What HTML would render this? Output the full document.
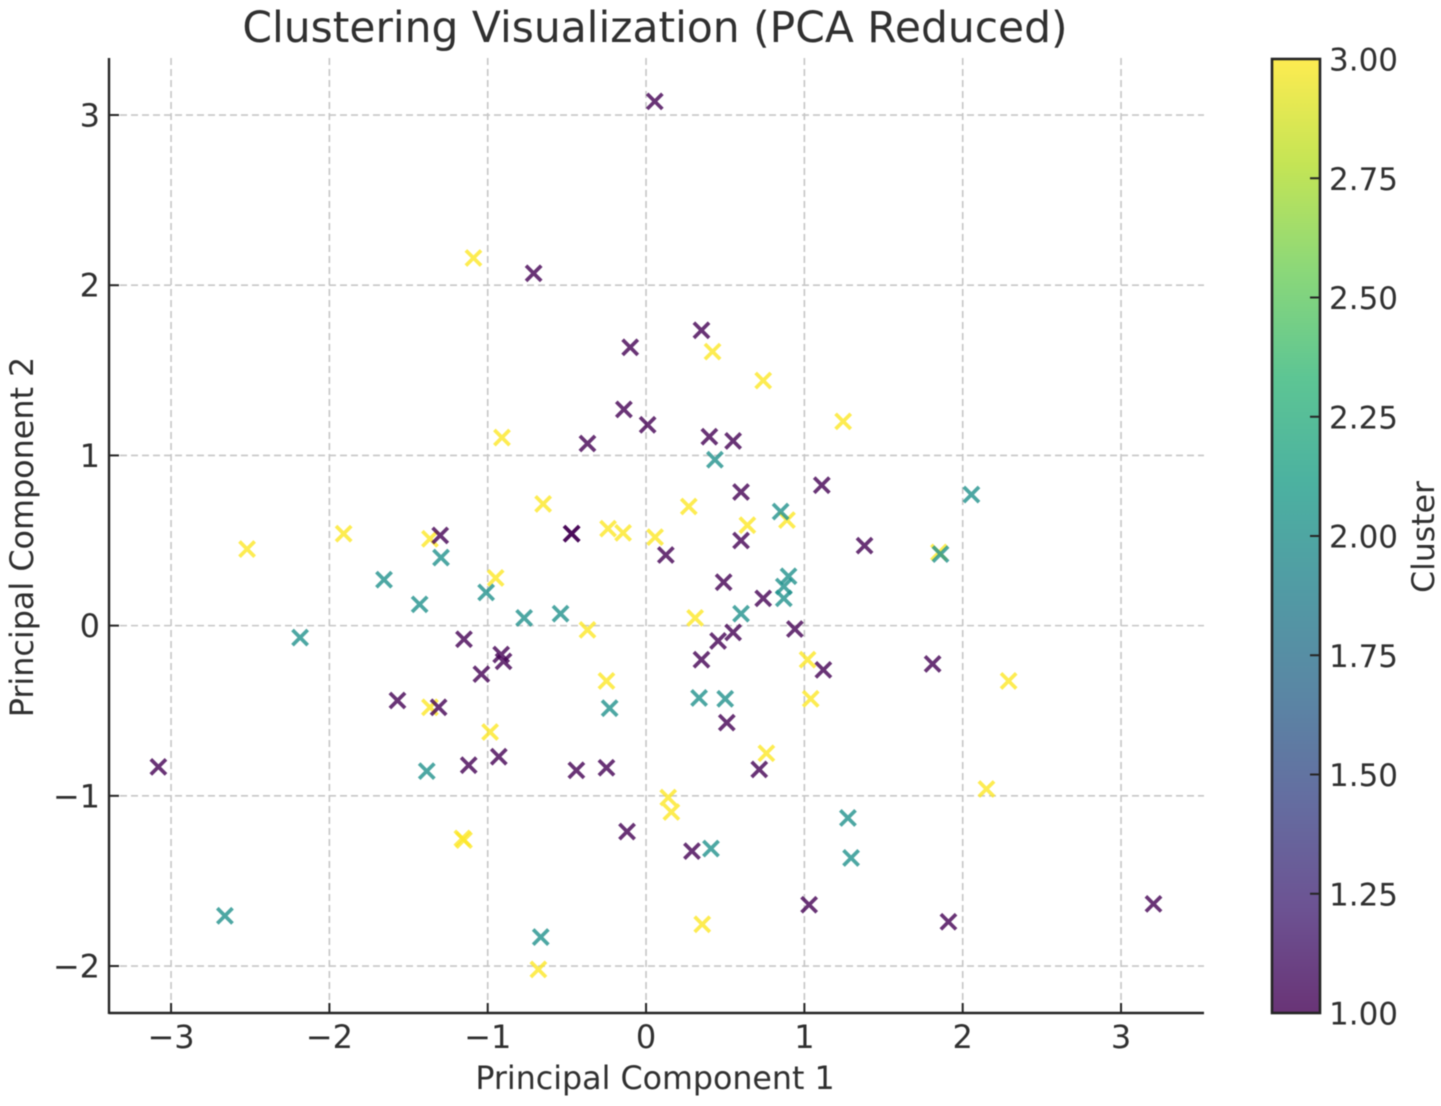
<!DOCTYPE html>
<html lang="en">
<head>
<meta charset="utf-8">
<title>Clustering Visualization (PCA Reduced)</title>
<style>
html,body{margin:0;padding:0;background:#fff;}
body{width:1441px;height:1106px;overflow:hidden;}
svg{display:block;filter:blur(0.5px);}
text{font-family:"DejaVu Sans","Liberation Sans",sans-serif;fill:#303030;}
</style>
</head>
<body>
<svg id="chart" xmlns="http://www.w3.org/2000/svg" width="1441" height="1106" viewBox="0 0 1441 1106">
<defs>
<linearGradient id="viridis" x1="0" y1="1" x2="0" y2="0"></linearGradient>
</defs>
<rect width="1441" height="1106" fill="#fff"></rect>
<text x="655" y="42" font-size="42.4" text-anchor="middle">Clustering Visualization (PCA Reduced)</text>
<g id="grid"></g>
<g id="points"></g>
<g id="axes"></g>
<text x="655" y="1089" font-size="31.7" text-anchor="middle">Principal Component 1</text>
<text transform="translate(33,537) rotate(-90)" font-size="31.8" text-anchor="middle">Principal Component 2</text>
<g id="colorbar"></g>
<text transform="translate(1434,537) rotate(-90)" font-size="31.5" text-anchor="middle">Cluster</text>
</svg>
<script>
const xTicks = [-3, -2, -1, 0, 1, 2, 3];
const yTicks = [-2, -1, 0, 1, 2, 3];
const cbTicks = [1, 1.25, 1.5, 1.75, 2, 2.25, 2.5, 2.75, 3];

const cluster3X = [-1.09,0.42,0.74,1.245,-0.91,-0.65,0.27,0.64,0.89,-2.52,-1.91,-1.365,-0.24,-0.145,0.057,1.85,-0.95,-0.37,0.31,1.02,-0.25,1.04,2.29,-1.365,-0.985,0.76,0.14,0.16,2.15,-1.16,-1.15,0.355,-0.68];
const cluster3Y = [2.16,1.61,1.44,1.2,1.105,0.715,0.7,0.59,0.62,0.45,0.54,0.51,0.57,0.545,0.52,0.43,0.28,-0.025,0.045,-0.2,-0.325,-0.43,-0.325,-0.48,-0.625,-0.75,-1.01,-1.095,-0.96,-1.25,-1.26,-1.755,-2.02];

const cluster2X = [0.435,0.85,2.055,1.86,0.9,0.87,0.87,0.6,-1.295,-1.655,-1.43,-1.01,-0.77,-0.54,-2.185,0.335,0.5,-0.23,-1.385,1.275,1.295,0.41,-2.66,-0.665];
const cluster2Y = [0.975,0.67,0.77,0.42,0.29,0.23,0.16,0.07,0.4,0.27,0.125,0.195,0.045,0.07,-0.07,-0.425,-0.43,-0.485,-0.855,-1.13,-1.365,-1.31,-1.705,-1.83];

const cluster1X = [0.055,-0.71,0.35,-0.1,-0.14,0.01,-0.37,0.4,0.55,0.6,1.11,1.38,-1.3,-0.47,-0.47,0.125,0.6,0.49,0.74,0.94,0.55,0.455,0.35,1.12,1.81,-1.15,-0.915,-0.9,-1.04,-1.57,-1.31,0.51,-3.08,-1.12,-0.93,-0.44,-0.25,0.715,-0.12,0.29,1.03,1.91,3.205];
const cluster1Y = [3.08,2.07,1.735,1.635,1.27,1.18,1.07,1.11,1.085,0.785,0.825,0.47,0.53,0.54,0.54,0.415,0.5,0.255,0.16,-0.02,-0.04,-0.09,-0.2,-0.26,-0.225,-0.08,-0.17,-0.21,-0.285,-0.44,-0.48,-0.57,-0.83,-0.82,-0.77,-0.85,-0.835,-0.845,-1.21,-1.325,-1.64,-1.74,-1.635];

const NS = 'http://www.w3.org/2000/svg';
const plot = { left: 109, right: 1204, top: 58, bottom: 1013 };
const xDomain = [-3.392, 3.524];
const yDomain = [-2.276, 3.335];
const cbBox = { left: 1272, right: 1320, top: 59, bottom: 1013 };
const cbDomain = [1, 3];
const inkColor = '#252525';

function xScale(v) {
  return plot.left + (v - xDomain[0]) / (xDomain[1] - xDomain[0]) * (plot.right - plot.left);
}
function yScale(v) {
  return plot.bottom - (v - yDomain[0]) / (yDomain[1] - yDomain[0]) * (plot.bottom - plot.top);
}
function cbScale(v) {
  return cbBox.bottom - (v - cbDomain[0]) / (cbDomain[1] - cbDomain[0]) * (cbBox.bottom - cbBox.top);
}
function make(tag, attrs, parent) {
  const el = document.createElementNS(NS, tag);
  for (const k in attrs) el.setAttribute(k, attrs[k]);
  parent.appendChild(el);
  return el;
}
function minusLabel(v) {
  return (v < 0 ? '\u2212' : '') + String(Math.abs(v));
}

const gridG = document.getElementById('grid');
const axesG = document.getElementById('axes');
const pointsG = document.getElementById('points');
const cbG = document.getElementById('colorbar');

xTicks.forEach(function (t) {
  const px = xScale(t);
  const gl = make('line', { x1: px, x2: px, y1: plot.top, y2: plot.bottom, stroke: '#c6c6c6', 'stroke-width': 1.6, 'stroke-dasharray': '7 4' }, gridG);
  
  
  const tk = make('line', { x1: px, x2: px, y1: plot.bottom, y2: plot.bottom - 10, stroke: inkColor, 'stroke-width': 2 }, axesG);
  
  
  const lb = make('text', { x: px, y: 1048, 'font-size': 32, 'text-anchor': 'middle' }, axesG);
  
  
  lb.textContent = minusLabel(t);
});

yTicks.forEach(function (t) {
  const py = yScale(t);
  const gl = make('line', { x1: plot.left, x2: plot.right, y1: py, y2: py, stroke: '#c6c6c6', 'stroke-width': 1.6, 'stroke-dasharray': '7 4' }, gridG);
  
  
  const tk = make('line', { x1: plot.left, x2: plot.left + 10, y1: py, y2: py, stroke: inkColor, 'stroke-width': 2 }, axesG);
  
  
  const lb = make('text', { x: 100, y: py + 11.5, 'font-size': 32, 'text-anchor': 'end' }, axesG);
  
  
  lb.textContent = minusLabel(t);
});

const leftSpine = make('line', { x1: plot.left, x2: plot.left, y1: plot.top, y2: plot.bottom + 1, stroke: inkColor, 'stroke-width': 2.4 }, axesG);


const bottomSpine = make('line', { x1: plot.left, x2: plot.right, y1: plot.bottom, y2: plot.bottom, stroke: inkColor, 'stroke-width': 2.4 }, axesG);



function drawSeries(xs, ys, color, name) {
  xs.forEach(function (xv, i) {
    const cx = xScale(xv);
    const cy = yScale(ys[i]);
    const r = 7.6;
    const p = make('path', {
      d: 'M' + (cx - r) + ' ' + (cy - r) + 'L' + (cx + r) + ' ' + (cy + r) + 'M' + (cx - r) + ' ' + (cy + r) + 'L' + (cx + r) + ' ' + (cy - r),
      stroke: color, 'stroke-width': 3.7, 'stroke-opacity': 0.8, fill: 'none'
    }, pointsG);
    
    
  });
}
drawSeries(cluster3X, cluster3Y, '#fde725', 'point-cluster-3');
drawSeries(cluster2X, cluster2Y, '#21918c', 'point-cluster-2');
drawSeries(cluster1X, cluster1Y, '#440154', 'point-cluster-1');

const viridisStops = ['#440154','#482878','#3e4989','#31688e','#26828e','#1f9e89','#35b779','#6ece58','#b5de2b','#fde725'];
const grad = document.getElementById('viridis');
viridisStops.forEach(function (c, i) {
  make('stop', { offset: i / (viridisStops.length - 1), 'stop-color': c, 'stop-opacity': 0.8 }, grad);
});
const cbFill = make('rect', { x: cbBox.left, y: cbBox.top, width: cbBox.right - cbBox.left, height: cbBox.bottom - cbBox.top, fill: 'url(#viridis)' }, cbG);


cbTicks.forEach(function (t) {
  const py = cbScale(t);
  const tk = make('line', { x1: cbBox.right - 10, x2: cbBox.right, y1: py, y2: py, stroke: inkColor, 'stroke-width': 2 }, cbG);
  
  
  const lb = make('text', { x: 1329, y: py + 11.5, 'font-size': 31 }, cbG);
  
  
  lb.textContent = t.toFixed(2);
});
const cbFrame = make('rect', { x: cbBox.left, y: cbBox.top, width: cbBox.right - cbBox.left, height: cbBox.bottom - cbBox.top, fill: 'none', stroke: inkColor, 'stroke-width': 2.6 }, cbG);


</script>
</body>
</html>
